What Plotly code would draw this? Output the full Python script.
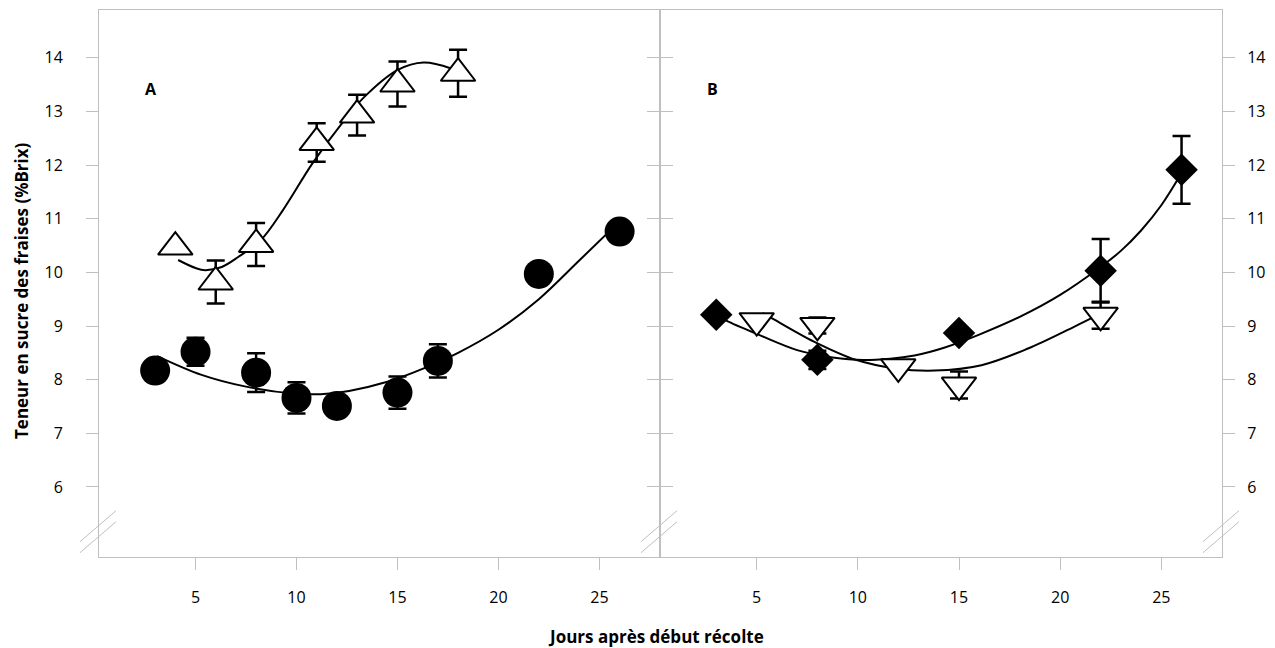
import plotly.graph_objects as go

# ---------------- data ----------------
# Panel A - open triangles
a_tri_x = [4, 6, 8, 11, 13, 15, 18]
a_tri_y = [10.47, 9.82, 10.52, 12.42, 12.93, 13.51, 13.71]
a_tri_err = [0.0, 0.40, 0.40, 0.36, 0.38, 0.42, 0.44]
# Panel A - filled circles
a_cir_x = [3, 5, 8, 10, 12, 15, 17, 22, 26]
a_cir_y = [8.17, 8.52, 8.13, 7.66, 7.51, 7.76, 8.35, 9.97, 10.76]
a_cir_err = [0.0, 0.26, 0.36, 0.29, 0.0, 0.30, 0.31, 0.0, 0.0]
# Panel B - filled diamonds
b_dia_x = [3, 8, 15, 22, 26]
b_dia_y = [9.21, 8.37, 8.87, 10.03, 11.91]
b_dia_err = [0.0, 0.17, 0.0, 0.59, 0.63]
# Panel B - open inverted triangles
b_tri_x = [5, 8, 12, 15, 22]
b_tri_y = [9.10, 9.01, 8.24, 7.90, 9.20]
b_tri_err = [0.0, 0.15, 0.0, 0.25, 0.25]

# trend curves
a_tri_fit_x = [4.14, 5.0, 5.48, 6.3, 7.13, 8.23, 9.33, 10.79, 12.26, 13.36, 15.0, 16.29, 17.66]
a_tri_fit_y = [10.23, 10.08, 10.04, 10.10, 10.29, 10.60, 11.16, 12.03, 12.78, 13.27, 13.77, 13.91, 13.80]
a_cir_fit_x = [3.1, 5.3, 7.5, 9.9, 11.2, 12.6, 14.5, 16.3, 18.0, 20.0, 22.0, 24.0, 26.0]
a_cir_fit_y = [8.44, 8.09, 7.87, 7.74, 7.73, 7.79, 7.96, 8.21, 8.50, 8.93, 9.50, 10.22, 10.95]
b_dia_fit_x = [3.0, 3.6, 5.2, 7.0, 8.3, 9.9, 11.6, 12.8, 14.3, 16.0, 18.0, 20.0, 22.0, 23.0, 24.0, 25.0, 26.0]
b_dia_fit_y = [9.20, 9.08, 8.82, 8.55, 8.44, 8.37, 8.39, 8.45, 8.60, 8.84, 9.17, 9.58, 10.10, 10.40, 10.78, 11.25, 11.85]
b_tri_fit_x = [5.3, 5.64, 7.83, 9.9, 11.85, 13.8, 16.11, 18.41, 20.71, 22.0]
b_tri_fit_y = [9.24, 9.17, 8.71, 8.37, 8.21, 8.17, 8.27, 8.58, 8.99, 9.23]

y_ticks = [6, 7, 8, 9, 10, 11, 12, 13, 14]
x_ticks = [5, 10, 15, 20, 25]

# ---------------- geometry ----------------
W, H = 1275, 648
L, R, T, B = 99, 1222, 10, 557
PW, PH = R - L, B - T
SPLIT = (660 - L) / PW
XR = [0.22, 28.0]
YR = [4.695, 14.889]
FONT = "Open Sans"
GRAY = "#bfbfbf"


def px(xp):
    return (xp - L) / PW


def py(yp):
    return (B - yp) / PH


fig = go.Figure()

line_style = dict(color="black", width=2, shape="spline", smoothing=1.0)
for fx, fy, xa, ya in [
    (a_tri_fit_x, a_tri_fit_y, "x", "y"),
    (a_cir_fit_x, a_cir_fit_y, "x", "y"),
    (b_dia_fit_x, b_dia_fit_y, "x2", "y2"),
    (b_tri_fit_x, b_tri_fit_y, "x2", "y2"),
]:
    fig.add_trace(go.Scatter(x=fx, y=fy, mode="lines", line=line_style,
                             xaxis=xa, yaxis=ya, showlegend=False, hoverinfo="skip"))


def err(arr):
    return dict(type="data", array=arr, visible=True, color="black", thickness=2.5, width=9)


fig.add_trace(go.Scatter(x=a_cir_x, y=a_cir_y, mode="markers", error_y=err(a_cir_err),
                         marker=dict(symbol="circle", size=30, color="black", line=dict(width=0)),
                         xaxis="x", yaxis="y", showlegend=False))
fig.add_trace(go.Scatter(x=a_tri_x, y=a_tri_y, mode="markers", error_y=err(a_tri_err),
                         marker=dict(symbol="triangle-up", size=30, color="white",
                                     line=dict(color="black", width=2)),
                         xaxis="x", yaxis="y", showlegend=False))
fig.add_trace(go.Scatter(x=b_tri_x, y=b_tri_y, mode="markers", error_y=err(b_tri_err),
                         marker=dict(symbol="triangle-down", size=30, color="white",
                                     line=dict(color="black", width=2)),
                         xaxis="x2", yaxis="y2", showlegend=False))
fig.add_trace(go.Scatter(x=b_dia_x, y=b_dia_y, mode="markers", error_y=err(b_dia_err),
                         marker=dict(symbol="diamond", size=25, color="black", line=dict(width=0)),
                         xaxis="x2", yaxis="y2", showlegend=False))

tickfont = dict(family=FONT, size=16, color="black")
xbase = dict(range=XR, tickvals=x_ticks, showgrid=False, zeroline=False,
             tickcolor=GRAY, tickwidth=1, ticklen=12, tickfont=tickfont)
ybase = dict(range=YR, tickvals=y_ticks, showgrid=False, zeroline=False,
             tickcolor=GRAY, tickwidth=1, ticklen=12, tickfont=tickfont)

fig.update_layout(
    width=W, height=H,
    margin=dict(l=L, r=W - R, t=T, b=H - B),
    paper_bgcolor="white", plot_bgcolor="white",
    showlegend=False,
    xaxis=dict(**xbase, domain=[0, SPLIT], anchor="y", showline=True, linecolor=GRAY,
               linewidth=1, mirror=True, ticks="outside", ticklabelstandoff=14),
    xaxis2=dict(**xbase, domain=[SPLIT, 1], anchor="y2", showline=True, linecolor=GRAY,
                linewidth=1, mirror=True, ticks="outside", ticklabelstandoff=14),
    xaxis3=dict(**xbase, overlaying="x", anchor="y", ticks="inside", showticklabels=False,
                showline=False),
    xaxis4=dict(**xbase, overlaying="x2", anchor="y2", ticks="inside", showticklabels=False,
                showline=False),
    yaxis=dict(**ybase, anchor="x", side="left", showline=True, linecolor=GRAY, linewidth=1,
               mirror="ticks", ticks="outside", ticklabelstandoff=20),
    yaxis2=dict(**ybase, anchor="x2", side="right", showline=True, linecolor=GRAY, linewidth=1,
                mirror="ticks", ticks="outside", ticklabelstandoff=9),
    yaxis3=dict(**ybase, overlaying="y", anchor="x", side="left", ticks="inside",
                showticklabels=False, showline=False),
    yaxis4=dict(**ybase, overlaying="y2", anchor="x2", side="right", ticks="inside",
                showticklabels=False, showline=False),
)

# axis break marks (double slashes)
shapes = []
for cx in [L, 660, R]:
    for (x0, y0, x1, y1) in [(-19, 541.7, 17, 510.7), (-19, 552.7, 17, 521.7)]:
        shapes.append(dict(type="line", xref="paper", yref="paper",
                           x0=px(cx + x0), y0=py(y0), x1=px(cx + x1), y1=py(y1),
                           line=dict(color=GRAY, width=1)))
fig.update_layout(shapes=shapes)

annots = [
    dict(text="<b>A</b>", x=2.77, y=13.42, xref="x", yref="y", showarrow=False,
         font=dict(family=FONT, size=16, color="black")),
    dict(text="<b>B</b>", x=2.81, y=13.42, xref="x2", yref="y2", showarrow=False,
         font=dict(family=FONT, size=16, color="black")),
    dict(text="<b>Jours après début récolte</b>", x=px(656), y=py(636), xref="paper",
         yref="paper", showarrow=False, xanchor="center", yanchor="middle",
         font=dict(family=FONT, size=17, color="black")),
    dict(text="<b>Teneur en sucre des fraises (%Brix)</b>", x=px(21), y=py(291), xref="paper",
         yref="paper", showarrow=False, xanchor="center", yanchor="middle", textangle=-90,
         font=dict(family=FONT, size=17, color="black")),
]
fig.update_layout(annotations=annots)

fig.write_html("out.html", config={"displayModeBar": False},
               post_script="document.body.style.margin='0px';")
